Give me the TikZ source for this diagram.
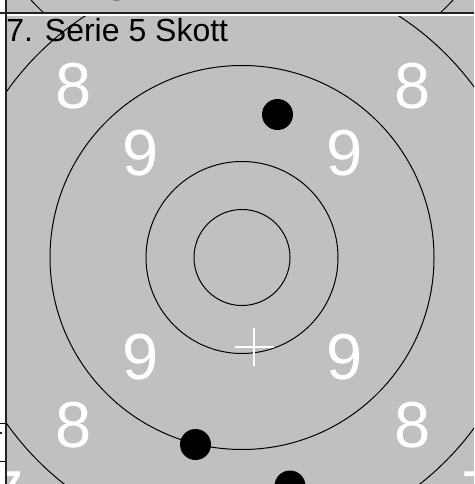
\documentclass[tikz,border=0pt]{standalone}
\usepackage{fontspec}
\setmainfont{Liberation Sans}
\definecolor{panel}{HTML}{C0C0C0}
\definecolor{framec}{HTML}{222222}
\begin{document}
\begin{tikzpicture}[x=1pt,y=-1pt,
  ring/.style={draw=black,line width=1pt},
  shot/.style={fill=black},
  score/.style={text=white,inner sep=0pt,font=\fontsize{65}{65}\selectfont},
  titletext/.style={text=black,inner sep=0pt,anchor=base west,font=\fontsize{32}{32}\selectfont},
  frameline/.style={draw=framec,line width=1.6pt},
  thinline/.style={draw=black,line width=0.8pt}]
\useasboundingbox (0,0) rectangle (474,484);
\fill[white] (0,0) rectangle (474,484);
% upper (previous) panel
\fill[panel] (7,0) rectangle (474,13);
\begin{scope}
  \clip (7,0) rectangle (474,13);
  \coordinate (U) at (242,-196);
  \draw[ring] (U) circle (288);
  \fill[shot] (116.5,-14.5) circle (15);
\end{scope}
% main panel
\fill[panel] (7,15) rectangle (474,484);
\begin{scope}
  \clip (7,15.8) rectangle (474,484);
  \coordinate (C) at (242,257.5);
  \coordinate (L) at (242.6,255.6);
  \draw[ring] (C) circle (48);
  \draw[ring] (C) circle (96);
  \draw[ring] (C) circle (192);
  \draw[ring] (C) circle (288);
  % score labels
  \node[score] (n9a) at ([shift={(-102,-102)}]L) {9};
  \node[score] (n9b) at ([shift={(102,-102)}]L) {9};
  \node[score] (n9c) at ([shift={(-102,102)}]L) {9};
  \node[score] (n9d) at ([shift={(102,102)}]L) {9};
  \node[score] (n8a) at ([shift={(-169.5,-169.5)}]L) {8};
  \node[score] (n8b) at ([shift={(169.5,-169.5)}]L) {8};
  \node[score] (n8c) at ([shift={(-169.5,169.5)}]L) {8};
  \node[score] (n8d) at ([shift={(169.5,169.5)}]L) {8};
  \node[score] (n7b) at ([shift={(239.5,-235)}]L) {7};
  \node[score] (n7c) at ([shift={(-237,239)}]L) {7};
  \node[score] (n7d) at ([shift={(237,239)}]L) {7};
  % shots
  \fill[shot] (277.5,114.5) circle (15.5);
  \fill[shot] (195.5,444.5) circle (15.5);
  \fill[shot] (290,486) circle (15.5);
  % mean point cross
  \coordinate (M) at (254,347);
  \draw[white,line width=2pt] ([xshift=-19.5pt]M) -- ([xshift=19.5pt]M);
  \draw[white,line width=2pt] ([yshift=-19pt]M) -- ([yshift=19pt]M);
\end{scope}
% frame lines
\draw[frameline] (0,13.3) -- (474,13.3);
\draw[white,line width=1.4pt] (7,15) -- (474,15);
\draw[frameline,line width=2pt] (6,0) -- (6,484);
\draw[thinline] (0,423) -- (5,423);
\draw[thinline] (0,461) -- (5,461);
\fill[framec] (0,432.3) rectangle (2,434);
% title
\node[titletext] (title) at (6.2,42) {7. Serie 5 Skott};
\end{tikzpicture}
\end{document}
